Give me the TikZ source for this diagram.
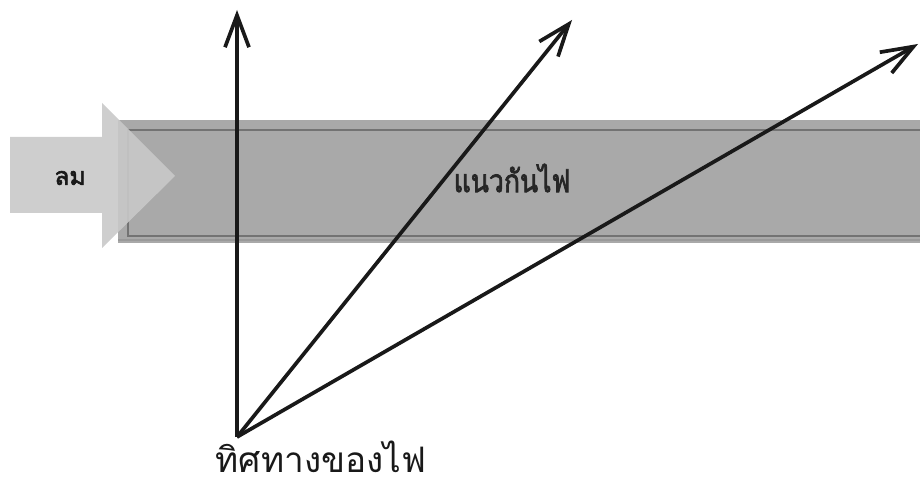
\documentclass[tikz,border=0pt]{standalone}
\usepackage{fontspec}
\newfontfamily\thaifont[Script=Thai]{Loma}
\newfontfamily\thaibold[Script=Thai,FakeBold=2.5]{Loma}
\usetikzlibrary{arrows.meta,positioning}
\definecolor{bandgray}{HTML}{A9A9A9}
\definecolor{windgray}{HTML}{C9C9C9}
\tikzset{
    band/.style={fill=bandgray,draw=none},
    bandline/.style={draw=black!55,line width=0.6pt},
    wind/.style={fill=windgray,fill opacity=0.9,draw=none},
    firedir/.style={draw=black!90,line width=2.1pt,-{Straight Barb[length=6.4mm,width=4.8mm,line width=2.1pt]}},
    label/.style={font=\thaifont,text=black!90,inner sep=1pt},
}
\begin{document}
\begin{tikzpicture}[x=0.02cm,y=-0.02cm]
    \useasboundingbox (0,0) rectangle (920,486);
    % firebreak band
    \path[band] (118,120) rectangle (920,243);
    \draw[bandline] (128,130) rectangle (926,236);
    \draw[bandline,draw=black!40] (118,240) -- (920,240);
    % wind arrow
    \path[wind] (10,137) -- (102,137) -- (102,103) -- (175,176)
        -- (102,248) -- (102,213) -- (10,213) -- cycle;
    \node[label,font=\thaibold\fontsize{14}{14}\selectfont] (wind) at (70,178) {ลม};
    \node[label,font=\thaibold\fontsize{18}{18}\selectfont,text=black!85] (firebreak) at (512,178)
        {\scalebox{0.84}[1]{แนวกันไฟ}};

    % fire directions
    \coordinate (o) at (237,437);
    \coordinate (up) at (237,10);
    \coordinate (mid) at (572,20);
    \coordinate (far) at (918,44);
    \draw[firedir] (o) -- (up);
    \draw[firedir] (o) -- (mid);
    \draw[firedir] (o) -- (far);
    \node[label,font=\thaifont\fontsize{20}{20}\selectfont,anchor=base] (dir) at (321,472) {ทิศทางของไฟ};
\end{tikzpicture}
\end{document}
